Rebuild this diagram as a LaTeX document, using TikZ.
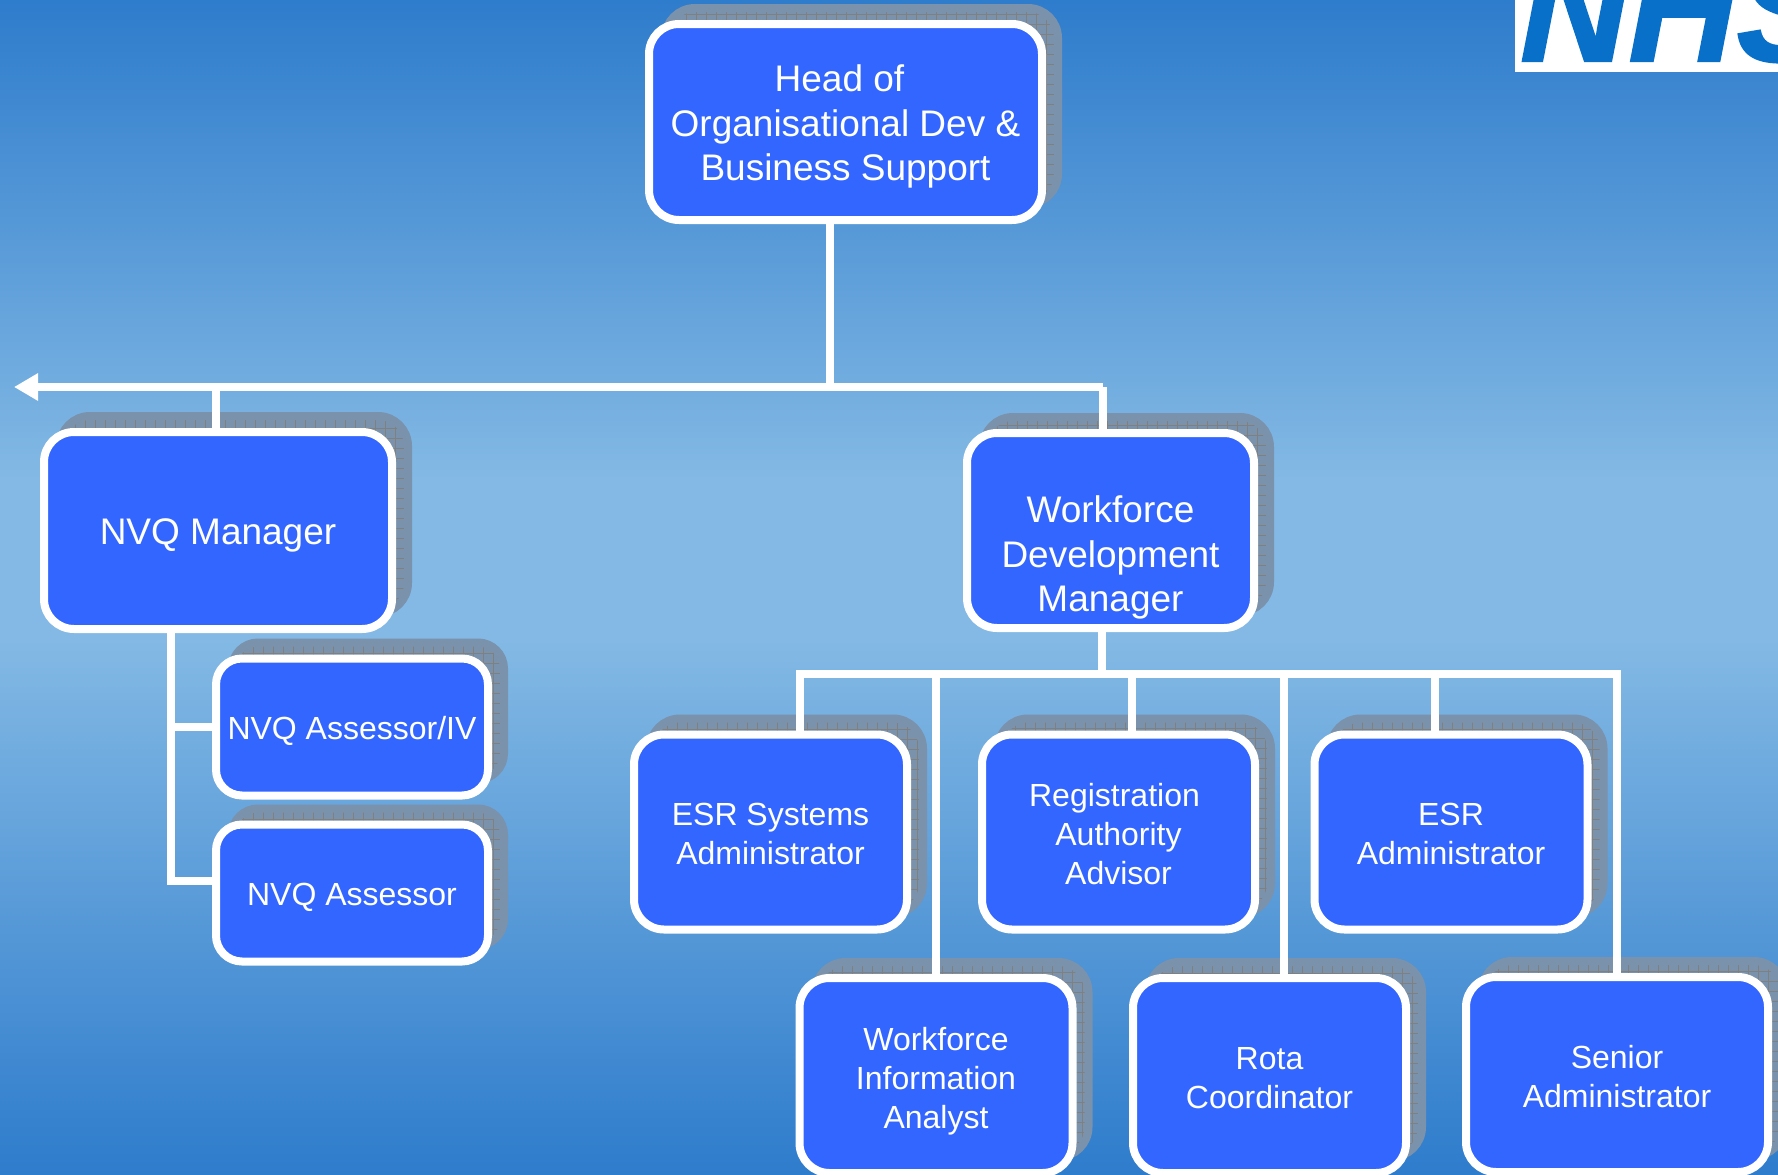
\documentclass[tikz,border=0pt]{standalone}
\usepackage{fontspec}
\setmainfont{Liberation Sans}
\usetikzlibrary{positioning, arrows.meta, shadows}
\definecolor{BoxBlue}{RGB}{51,102,255}
\definecolor{SkyTop}{RGB}{46,124,204}
\definecolor{SkyMid}{RGB}{131,185,228}
\definecolor{ShadowGrey}{RGB}{122,146,172}
\definecolor{LogoBlue}{RGB}{8,112,200}
\pgfdeclareverticalshading{SkyBand}{100bp}{color(0bp)=(SkyTop); color(25bp)=(SkyTop); color(47.8bp)=(SkyMid); color(54.6bp)=(SkyMid); color(75bp)=(SkyTop); color(100bp)=(SkyTop)}
\tikzstyle{Link} = [
%White connector lines:
draw = white, line width = 8pt
]
\tikzstyle{Arrow} = [
Link, -{Triangle[length = 24pt, width = 26pt]}
]

\begin{document}
\begin{tikzpicture}[
				x = 1pt, y = -1pt,
				orgbox/.style = {rectangle, draw = white, fill = BoxBlue, line width = 8pt, text = white, align = center, rounded corners = 30pt,
					general shadow = {shadow xshift = 16pt, shadow yshift = 16pt, draw = ShadowGrey, fill = ShadowGrey,
						path picture = {\draw[gray, line width = 0.7pt] (path picture bounding box.south west) grid[step = 10pt] (path picture bounding box.north east);}}},
				bigbox/.style = {orgbox, font = \fontsize{37}{44.5}\selectfont},
				unitbox/.style = {orgbox, font = \fontsize{32}{39}\selectfont, minimum width = 273pt, minimum height = 195pt},
				assessorbox/.style = {orgbox, font = \fontsize{32}{39}\selectfont, minimum width = 272pt, minimum height = 137pt, rounded corners = 26pt},
			]
			\useasboundingbox (0,0) rectangle (1778,1175);
			\begin{scope}
			\clip (0,0) rectangle (1778,1175);
			\fill[shading = SkyBand] (0,0) rectangle (1778,1175);

			\fill[white] (1515,0) rectangle (1778,72);
			\node(Logo) [anchor = base west, inner sep = 0pt, text = LogoBlue, font = \fontsize{150}{150}\selectfont\bfseries\itshape\addfontfeature{FakeBold=1.5}] at (1520,61) {NHS};

			\node[bigbox, minimum width = 393pt, minimum height = 196pt](Head) at (845.5,122) {\rule{0pt}{36pt}Head of\hspace*{12pt}\\Organisational Dev \&\\Business Support};
			\node[bigbox, minimum width = 348pt, minimum height = 197pt](NVQM) at (218,530.5) {\rule{0pt}{35pt}NVQ Manager};
			\node[bigbox, minimum width = 287pt, minimum height = 195pt](WDM) at (1110.5,530.5) {\rule{0pt}{81pt}Workforce\\Development\\Manager};

			\node[assessorbox](IV) at (352,727) {\rule{0pt}{31pt}NVQ Assessor/IV};
			\node[assessorbox](NA) at (352,893) {\rule{0pt}{31pt}NVQ Assessor};

			\node[unitbox](ESRS) at (770.5,832) {\rule{0pt}{27pt}ESR Systems\\Administrator};
			\node[unitbox](RAA) at (1118.5,832) {\rule{0pt}{27pt}Registration\hspace*{8pt}\\Authority\\Advisor};
			\node[unitbox](ESRA) at (1451,832) {\rule{0pt}{27pt}ESR\\Administrator};
			\node[unitbox](WIA) at (936,1075.5) {\rule{0pt}{35pt}Workforce\\Information\\Analyst};
			\node[unitbox](Rota) at (1269.5,1075.5) {\rule{0pt}{28pt}Rota\\Coordinator};
			\node[unitbox, minimum width = 302pt](Senior) at (1617,1074.5) {\rule{0pt}{27pt}Senior\\Administrator};

			\coordinate(HeadHub) at (830,387);
			\coordinate(ArrowEnd) at (14,387);
			\coordinate(RightEnd) at (1103,387);
			\coordinate(NVQDrop) at (171,727);
			\coordinate(NVQFoot) at (171,881);
			\coordinate(WDMHub) at (1102,674);
			\coordinate(BusLeft) at (800,674);
			\coordinate(BusRight) at (1617,674);

			\draw[Link](HeadHub |- Head.south)--(HeadHub);
			\draw[Arrow](RightEnd)--(ArrowEnd);
			\draw[Link](RightEnd)--(RightEnd |- WDM.north);
			\draw[Link](216,387)--(216,0 |- NVQM.north);

			\draw[Link](NVQDrop |- NVQM.south)--(NVQFoot)--(NVQFoot -| NA.west);
			\draw[Link](NVQDrop)--(NVQDrop -| IV.west);

			\draw[Link](WDMHub |- WDM.south)--(WDMHub);
			\draw[Link](BusLeft |- ESRS.north)--(BusLeft)--(BusRight)--(BusRight |- Senior.north);
			\draw[Link](936,674)--(936,0 |- WIA.north);
			\draw[Link](1132,674)--(1132,0 |- RAA.north);
			\draw[Link](1284,674)--(1284,0 |- Rota.north);
			\draw[Link](1435,674)--(1435,0 |- ESRA.north);
			\end{scope}
		\end{tikzpicture}
\end{document}
